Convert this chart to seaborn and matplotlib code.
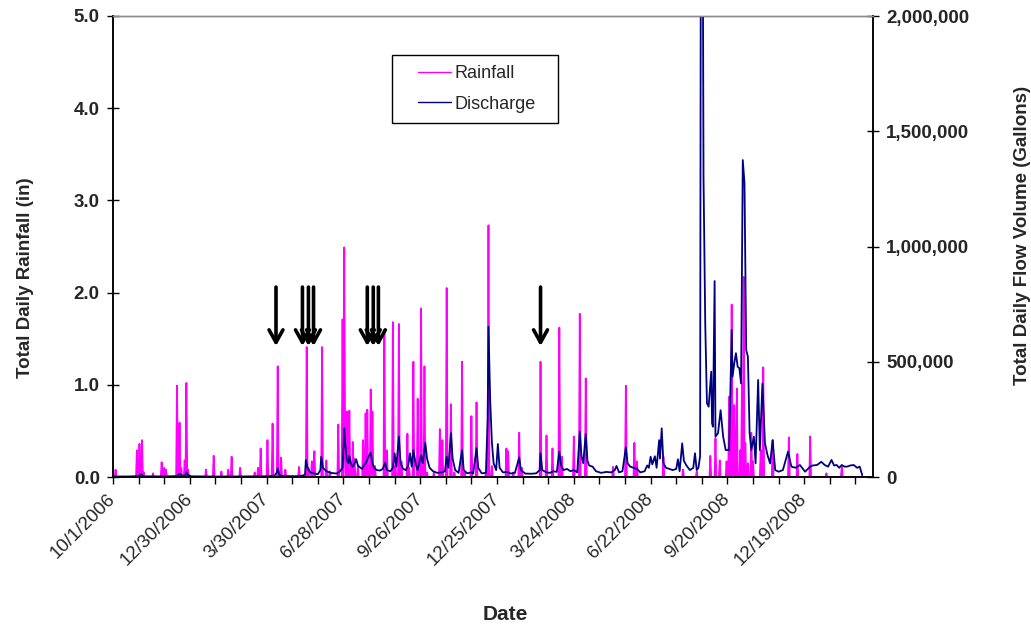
import numpy as np
import pandas as pd
import matplotlib
matplotlib.use("Agg")
import matplotlib.pyplot as plt
import matplotlib.dates as mdates
from matplotlib.patches import Rectangle
from matplotlib.ticker import FixedLocator, FuncFormatter
import seaborn as sns

# ---------------- data ----------------
start_date = "2006-10-01"
n_days = 879  # daily record length

# rainfall events: day number since 10/1/2006, inches
rain_day = [3, 28, 31, 34, 36, 47, 57, 60, 62, 75, 78, 80, 84, 86, 88, 109, 118, 127, 135, 139,
            149, 166, 170, 173, 181, 187, 193, 197, 202, 218, 227, 229, 233, 236, 245, 250, 254,
            264, 269, 271, 272, 274, 276, 277, 279, 281, 283, 287, 293, 296, 298, 302, 304, 307,
            318, 321, 328, 331, 335, 338, 345, 347, 352, 357, 361, 365, 368, 376, 383, 386, 391,
            396, 400, 409, 412, 420, 426, 437, 440, 444, 461, 463, 469, 476, 479, 501, 508, 515,
            523, 526, 540, 547, 554, 586, 601, 611, 614, 645, 668, 684, 700, 706, 711, 719, 722,
            725, 728, 731, 735, 737, 739, 741, 744, 748, 750, 759, 762, 773, 792, 802, 817, 836, 854]
rain_in = [0.08, 0.29, 0.36, 0.40, 0.05, 0.04, 0.16, 0.10, 0.08, 0.99, 0.59, 0.10, 0.18, 1.02, 0.08,
           0.08, 0.23, 0.06, 0.08, 0.22, 0.10, 0.05, 0.10, 0.31, 0.40, 0.58, 1.20, 0.21, 0.08, 0.11,
           1.41, 0.10, 0.17, 0.28, 1.41, 0.18, 0.06, 0.57, 1.71, 2.49, 0.35, 0.71, 0.20, 0.72, 0.15,
           0.38, 0.20, 0.12, 0.40, 0.69, 0.73, 0.95, 0.71, 0.12, 1.60, 0.29, 1.68, 0.12, 1.66, 0.17,
           0.47, 0.10, 1.25, 0.85, 1.83, 1.20, 0.05, 0.05, 0.52, 0.40, 2.05, 0.79, 0.05, 1.25, 0.05,
           0.66, 0.81, 0.05, 2.73, 0.12, 0.31, 0.28, 0.05, 0.48, 0.10, 1.25, 0.45, 0.31, 1.62, 0.22,
           0.44, 1.77, 1.07, 0.11, 0.99, 0.37, 0.17, 0.22, 0.08, 0.06, 0.23, 0.42, 0.18, 0.17, 0.87,
           1.87, 0.78, 0.96, 0.29, 1.02, 2.17, 0.37, 0.15, 0.48, 0.17, 0.29, 1.19, 0.40, 0.43, 0.25,
           0.44, 0.04, 0.11]

# discharge readings: day number since 10/1/2006, gallons per day
flow_day = [0, 20, 30, 33, 36, 60, 75, 78, 81, 85, 86, 88, 92, 120, 150, 180, 189, 192, 193, 195,
            200, 215, 222, 225, 226, 228, 231, 236, 240, 243, 244, 246, 250, 255, 262, 266, 269,
            270, 271, 272, 274, 276, 277, 279, 281, 283, 285, 287, 290, 292, 294, 297, 299, 302,
            304, 306, 309, 313, 316, 319, 321, 325, 328, 330, 332, 335, 337, 340, 343, 346, 348,
            350, 352, 355, 357, 361, 363, 366, 368, 371, 375, 380, 385, 389, 391, 393, 396, 398,
            401, 405, 409, 411, 415, 420, 422, 426, 428, 432, 437, 439, 440, 442, 444, 446, 449,
            451, 453, 457, 462, 466, 471, 476, 478, 483, 490, 496, 500, 501, 503, 508, 512, 516,
            520, 523, 525, 528, 532, 536, 540, 544, 547, 549, 551, 554, 556, 558, 562, 566, 572,
            578, 584, 588, 590, 593, 597, 601, 603, 606, 610, 614, 618, 623, 626, 628, 630, 632,
            635, 637, 640, 641, 643, 645, 648, 652, 656, 660, 662, 664, 667, 669, 672, 676, 680,
            682, 684, 686, 688, 689, 690, 691, 692, 694, 696, 698, 701, 702, 703, 705, 706, 709,
            712, 715, 718, 722, 725, 726, 728, 730, 732, 734, 736, 738, 740, 742, 744, 746, 748,
            751, 753, 756, 758, 761, 764, 767, 770, 773, 776, 780, 785, 791, 795, 800, 805, 811,
            817, 820, 825, 830, 834, 838, 842, 845, 848, 851, 854, 857, 860, 864, 868, 872, 875, 878]
flow_gal = [2000, 2500, 4000, 12000, 3000, 2500, 4000, 14000, 5000, 8000, 22000, 8000, 3000, 2000,
            2500, 3000, 5000, 20000, 38000, 8000, 4000, 3500, 6000, 10000, 74000, 40000, 20000,
            15000, 12000, 30000, 88000, 40000, 25000, 18000, 15000, 25000, 40000, 120000, 211000,
            150000, 74000, 60000, 91000, 55000, 45000, 60000, 77000, 50000, 40000, 35000, 50000,
            66000, 85000, 105000, 60000, 40000, 30000, 28000, 35000, 62000, 30000, 25000, 40000,
            103000, 45000, 175000, 60000, 35000, 30000, 50000, 103000, 45000, 117000, 50000, 30000,
            95000, 60000, 149000, 80000, 40000, 25000, 18000, 20000, 25000, 88000, 40000, 190000,
            80000, 30000, 18000, 117000, 30000, 16000, 20000, 15000, 125000, 40000, 16000, 18000,
            250000, 652000, 334000, 150000, 60000, 30000, 143000, 40000, 20000, 22000, 15000, 18000,
            85000, 30000, 15000, 14000, 16000, 30000, 103000, 30000, 20000, 18000, 25000, 22000,
            110000, 50000, 30000, 35000, 25000, 30000, 20000, 197000, 90000, 60000, 187000, 70000,
            50000, 45000, 25000, 18000, 22000, 20000, 30000, 48000, 20000, 25000, 129000, 60000,
            45000, 40000, 35000, 20000, 25000, 50000, 40000, 88000, 55000, 90000, 40000, 160000,
            80000, 211000, 60000, 40000, 35000, 30000, 35000, 77000, 25000, 146000, 70000, 50000,
            30000, 40000, 103000, 30000, 40000, 90000, 2900000, 3300000, 2500000, 1300000, 667000,
            320000, 305000, 457000, 233000, 218000, 850000, 175000, 190000, 290000, 175000, 117000,
            117000, 638000, 435000, 493000, 537000, 478000, 472000, 406000, 1375000, 1275000,
            551000, 522000, 190000, 117000, 175000, 59000, 421000, 117000, 406000, 146000, 95000,
            59000, 160000, 30000, 23000, 30000, 110000, 45000, 40000, 52000, 23000, 45000, 50000,
            52000, 66000, 52000, 45000, 74000, 50000, 52000, 40000, 52000, 45000, 45000, 50000,
            52000, 40000, 45000, 8000]

# sampling-event arrows (day number since 10/1/2006)
arrow_day = [191, 222, 229, 235, 298, 305, 311, 501]

tick_labels = ["10/1/2006", "12/30/2006", "3/30/2007", "6/28/2007", "9/26/2007",
               "12/25/2007", "3/24/2008", "6/22/2008", "9/20/2008", "12/19/2008"]

series_names = ["Rainfall", "Discharge"]

# ---------------- build tables ----------------
t0 = pd.Timestamp(start_date)
all_days = pd.date_range(t0, periods=n_days, freq="D")
rain = pd.Series(0.0, index=all_days)
rain.loc[t0 + pd.to_timedelta(rain_day, unit="D")] = rain_in
rain_df = pd.DataFrame({"date": rain.index, "rain": rain.values})
flow_df = pd.DataFrame({"date": t0 + pd.to_timedelta(flow_day, unit="D"), "flow": flow_gal})

# ---------------- style ----------------
sns.set_theme(style="white")
plt.rcParams["font.family"] = ["Liberation Sans", "DejaVu Sans"]

W, H = 1031, 628
fig = plt.figure(figsize=(W / 100, H / 100), dpi=100)
ax = fig.add_axes([113 / W, 1 - 477 / H, 760 / W, 461 / H])
ax2 = ax.twinx()

sns.lineplot(data=rain_df, x="date", y="rain", ax=ax, color="#FF00FF",
             linewidth=1.3, legend=False)
sns.lineplot(data=flow_df, x="date", y="flow", ax=ax2, color="#000080",
             linewidth=1.3, legend=False)

x_min = mdates.date2num(t0)
ax.set_xlim(x_min, x_min + 890.6)
ax.set_ylim(0, 5)
ax2.set_ylim(0, 2_000_000)

# x ticks every 30 days, labels every 90 days
tick_pos = [x_min + 30 * k for k in range(30)]
labels = []
for k in range(30):
    labels.append(tick_labels[k // 3] if k % 3 == 0 and k // 3 < len(tick_labels) else "")
ax.xaxis.set_major_locator(FixedLocator(tick_pos))
ax.set_xticklabels(labels, rotation=45, ha="right", va="center",
                   rotation_mode="anchor", fontsize=13.5)
ax.tick_params(axis="x", direction="out", length=5, width=1, color="black", pad=9,
               bottom=True)

ax.set_yticks(np.arange(0, 5.01, 1.0))
ax.yaxis.set_major_formatter(FuncFormatter(lambda v, p: f"{v:.1f}"))
ax.tick_params(axis="y", direction="inout", length=9, width=1, color="black", pad=5,
               left=True, labelsize=13.5)
for t in ax.get_yticklabels():
    t.set_fontweight("bold")

ax2.set_yticks(np.arange(0, 2_000_001, 500_000))
ax2.yaxis.set_major_formatter(FuncFormatter(lambda v, p: f"{int(v):,}"))
ax2.tick_params(axis="y", direction="inout", length=9, width=1, color="black", pad=5,
                right=True, labelsize=13.5)
for t in ax2.get_yticklabels():
    t.set_fontweight("bold")

for a in (ax, ax2):
    for side in ("left", "right", "bottom"):
        a.spines[side].set_color("black")
        a.spines[side].set_linewidth(1.1)
    a.spines["top"].set_color("#8c8c8c")
    a.spines["top"].set_linewidth(1.0)
    a.grid(False)

ax.set_xlabel("Date", fontsize=15, fontweight="bold")
ax.xaxis.set_label_coords(0.516, -0.278)
ax.set_ylabel("Total Daily Rainfall (in)", fontsize=13.5, fontweight="bold")
ax.yaxis.set_label_coords(-0.104, 0.432)
ax2.set_ylabel("Total Daily Flow Volume (Gallons)", fontsize=13.5, fontweight="bold")
ax2.yaxis.set_label_coords(1.185, 0.523)

# arrows
for d in arrow_day:
    xd = x_min + d
    ax.annotate("", xy=(xd, 1.42), xytext=(xd, 2.06),
                arrowprops=dict(arrowstyle="->,head_length=0.45,head_width=0.25",
                                lw=2.6, color="black", shrinkA=0, shrinkB=0,
                                mutation_scale=20))

# legend: entries as a figure legend, frame drawn as a separate (wider) box
box = Rectangle((392 / W, 1 - 123 / H), 166 / W, 68 / H, transform=fig.transFigure,
                facecolor="white", edgecolor="black", linewidth=1.0, zorder=4)
fig.add_artist(box)
handles = [ax.get_lines()[0], ax2.get_lines()[0]]
leg = fig.legend(handles, series_names, loc="center", bbox_to_anchor=(0.4624, 0.8586),
                 fontsize=13, frameon=False, handlelength=1.8, handletextpad=0.2,
                 labelspacing=0.75, borderpad=0.55, borderaxespad=0)
leg.set_zorder(5)
for ln in leg.get_lines():
    ln.set_linewidth(1.0)

fig.savefig("out.png", dpi=100)
